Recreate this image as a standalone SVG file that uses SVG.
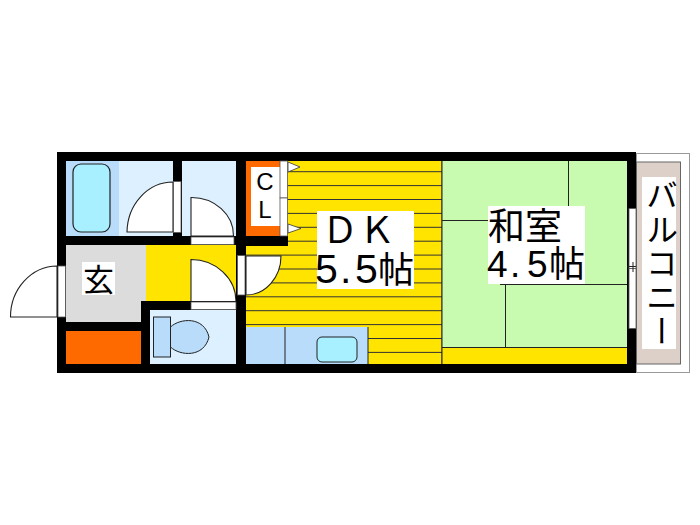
<svg xmlns="http://www.w3.org/2000/svg" width="700" height="525" viewBox="0 0 700 525">
<style>
.w{fill:#000}
.gap{fill:#fff;stroke:#555;stroke-width:.8}
.door{fill:#fff;stroke:#222;stroke-width:1.1}
.ln{stroke:#222;stroke-width:1;fill:none}
.y{stroke:#333;stroke-width:1}
.t{font-family:"Liberation Sans","Noto Sans CJK JP",sans-serif;fill:#000}
.box{fill:#fff}
</style>
<rect width="700" height="525" fill="#fff"/>
<g id="balcony">
<rect x="636.500" y="153.500" width="53" height="219" fill="#fff" stroke="#999" stroke-width="1"/>
<rect x="636.500" y="162" width="44" height="202" fill="#dcd0c8" stroke="#666" stroke-width="1"/>
<rect class="box" x="642" y="177" width="34" height="172"/>
<text class="t" x="659" y="179" font-size="32" letter-spacing="2" style="writing-mode:vertical-rl">バルコニー</text>
</g>
<g id="dk">
<rect x="246" y="161" width="196" height="203" fill="#ffe400"/>
<path class="y" d="M246 171.700H442M246 185.600H442M246 199.500H442M246 213.400H442M246 227.300H442M246 241.200H442M246 255.100H442M246 269H442M246 282.900H442M246 296.800H442M246 310.700H442M246 324.600H442M246 338.500H442M246 352.400H442M442 161V364"/>
<rect x="246" y="327" width="122" height="37" fill="#b8dcfa"/>
<path class="ln" d="M285 327V364M368 327V364" stroke-width=".8"/>
<rect x="317" y="337" width="40" height="25" rx="5" fill="#a8f0ff" stroke="#222" stroke-width="1"/>
<path class="door" d="M246 256H281A35 39 0 0 1 246 295Z"/>
<rect class="box" x="317" y="211" width="97" height="78"/>
<text class="t" x="322 359" y="243" font-size="36">ＤＫ</text>
<text class="t" x="315 340 355" y="283" font-size="41">5.5<tspan x="378" font-size="36">帖</tspan></text>
</g>
<g id="closet">
<rect x="246" y="161" width="34" height="76" fill="#ff6a00"/>
<rect class="box" x="251" y="167" width="29" height="59"/>
<text class="t" x="265" y="190" font-size="24" text-anchor="middle">C</text>
<text class="t" x="265" y="218" font-size="24" text-anchor="middle">L</text>
<path d="M288 162L300 167L288 172Z" fill="#fff" stroke="#333" stroke-width=".8"/>
<path d="M288 224L301 228.500L288 233Z" fill="#fff" stroke="#333" stroke-width=".8"/>
</g>
<g id="washitsu">
<rect x="442" y="161" width="185" height="187" fill="#c8fbb0"/>
<rect x="442" y="348" width="185" height="16" fill="#ffe400"/>
<path class="ln" d="M442 347.500H627M568.500 161V210M442 220.500H495M505.500 285V347M500 284.500H627M442 161V364"/>
<rect class="box" x="488" y="206" width="97" height="78"/>
<text class="t" x="488" y="240" font-size="37">和室</text>
<text class="t" x="487 510 527" y="277" font-size="37">4.5<tspan x="549" font-size="36">帖</tspan></text>
</g>
<g id="bath">
<rect x="66" y="161" width="53" height="75" fill="#b8dcfa"/>
<rect x="119" y="161" width="54" height="75" fill="#dcf0ff"/>
<rect x="73" y="164" width="37" height="68" rx="8" fill="#a8f0ff" stroke="#222" stroke-width="1.200"/>
<path class="door" d="M173 182A46 51 0 0 0 127 232H173Z"/>
</g>
<g id="washroom">
<rect x="182" y="161" width="54" height="75" fill="#dcf0ff"/>
<path class="door" d="M191 197.500A42 38 0 0 1 233.500 236H191Z"/>
</g>
<g id="entrance">
<rect x="66" y="245" width="80" height="78" fill="#dcdcdc"/>
<rect class="box" x="82" y="262" width="33" height="33"/>
<text class="t" x="98.500" y="291" font-size="31" text-anchor="middle">玄</text>
<path class="door" d="M57 266A47 51 0 0 0 10.500 317H57Z"/>
<rect x="66" y="331" width="75" height="33" fill="#ff6a00"/>
</g>
<g id="hall">
<rect x="146" y="245" width="90" height="57" fill="#ffe400"/>
<path class="door" d="M191 259.500A45 42 0 0 1 236 301.500H191Z"/>
</g>
<g id="toilet">
<rect x="150" y="310" width="86" height="54" fill="#dcf0ff"/>
<rect x="153.500" y="317" width="17" height="40" fill="#b8dcfa" stroke="#222" stroke-width="1"/>
<path d="M170.500 327C180 318 204 316 209 337C204 358 180 356 170.500 347Z" fill="#b8dcfa" stroke="#222" stroke-width="1"/>
</g>
<g id="walls">
<path class="w" d="M57 152H636V373H57Z M66 161V236H173V161Z M182 161V236H236V161Z M66 245V322H141V301H146V245Z M150 310V364H236V310Z M66 331V364H141V331Z M246 161V364H627V161Z M146 245V301H236V245Z" fill-rule="evenodd"/>
<rect class="w" x="246" y="236" width="42" height="10"/>
</g>
<g id="openings">
<rect class="gap" x="173.500" y="181.500" width="7.500" height="51"/>
<rect class="gap" x="191" y="237" width="43" height="7.500"/>
<rect class="gap" x="191" y="302" width="45" height="7.500"/>
<rect class="gap" x="58" y="266" width="7.500" height="51"/>
<rect class="gap" x="237.500" y="255.500" width="7.500" height="39.500"/>
<rect class="gap" x="280" y="161" width="7.500" height="37"/>
<rect class="gap" x="280" y="198" width="7.500" height="38"/>
<rect class="gap" x="629" y="208.500" width="7" height="60"/>
<rect class="gap" x="629" y="268.500" width="7" height="60"/>
<path class="ln" d="M627 266.500H636M633 262V272"/>
</g>
</svg>
